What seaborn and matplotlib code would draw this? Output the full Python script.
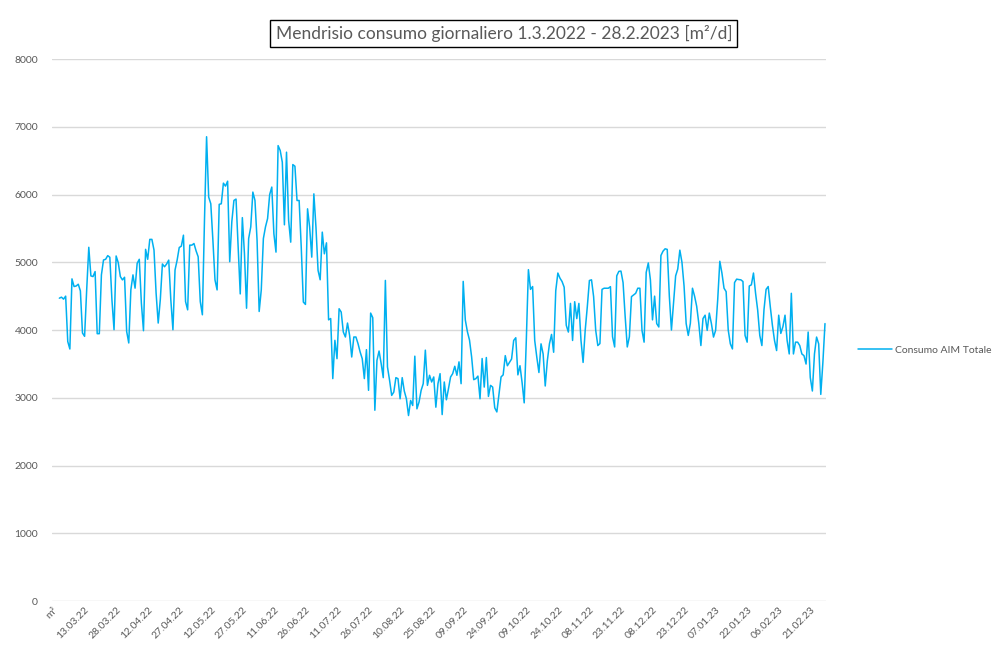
import numpy as np
import pandas as pd
import matplotlib
matplotlib.use("Agg")
import matplotlib.pyplot as plt
import seaborn as sns

# daily consumption [m3/d], one list per month
mar_22 = [4470, 4485, 4456, 4500, 3830, 3720, 4755, 4642, 4650, 4676, 4578, 3956, 3907, 4593, 5221, 4799,
          4789, 4863, 3946, 3946, 4814, 5034, 5044, 5098, 5074, 4446, 4005, 5093, 4995, 4789, 4740]
apr_22 = [4779, 3980, 3809, 4593, 4814, 4618, 4985, 5044, 4397, 3990, 5191, 5044, 5338, 5338, 5181,
          4544, 4103, 4450, 4975, 4934, 4974, 5032, 4445, 4004, 4886, 5032, 5218, 5238, 5400, 4420]
may_22 = [4298, 5253, 5253, 5277, 5169, 5081, 4420, 4225, 5620, 6853, 5962, 5864, 5326, 4739, 4592, 5855,
          5864, 6168, 6124, 6197, 5008, 5600, 5913, 5933, 5228, 4533, 5659, 5130, 4322, 5350, 5522]
jun_22 = [6036, 5913, 5326, 4274, 4592, 5350, 5522, 5645, 6000, 6110, 5420, 5150, 6722, 6650, 6477,
          5553, 6625, 5617, 5297, 6442, 6418, 5912, 5912, 5224, 4413, 4378, 5789, 5518, 5076, 6010]
jul_22 = [5518, 4880, 4742, 5445, 5125, 5287, 4150, 4170, 3283, 3848, 3577, 4314, 4265, 3971, 3897, 4103,
          3921, 3602, 3897, 3897, 3799, 3676, 3577, 3283, 3710, 3110, 4250, 4182, 2816, 3553, 3690]
aug_22 = [3504, 3297, 4732, 3455, 3257, 3035, 3084, 3297, 3282, 2985, 3297, 3099, 2985, 2738, 2960, 2886,
          3614, 2837, 2936, 3109, 3208, 3703, 3183, 3332, 3233, 3307, 2861, 3208, 3356, 2752, 3233]
sep_22 = [2970, 3134, 3307, 3356, 3465, 3332, 3530, 3208, 4718, 4149, 3975, 3851, 3604, 3267, 3282,
          3320, 2985, 3579, 3158, 3594, 3020, 3183, 3158, 2851, 2791, 3050, 3308, 3338, 3622, 3473]
oct_22 = [3522, 3572, 3846, 3886, 3338, 3473, 3224, 2925, 3846, 4891, 4600, 4642, 3846, 3597, 3373, 3796,
          3647, 3174, 3547, 3796, 3935, 3672, 4580, 4841, 4766, 4716, 4632, 4070, 3970, 4393, 3846]
nov_22 = [4418, 4169, 4393, 3846, 3522, 3995, 4343, 4731, 4741, 4493, 3995, 3771, 3800, 4600, 4617,
          4617, 4617, 4640, 3900, 3750, 4800, 4866, 4870, 4700, 4200, 3750, 3900, 4493, 4517, 4542]
dec_22 = [4617, 4617, 3995, 3821, 4850, 4990, 4741, 4150, 4500, 4095, 4045, 5100, 5164, 5199, 5190, 4500,
          4000, 4400, 4800, 4900, 5179, 5000, 4650, 4095, 3920, 4100, 4617, 4500, 4350, 4100, 3771]
jan_23 = [4169, 4219, 3995, 4250, 4095, 3896, 3995, 4450, 5015, 4841, 4617, 4567, 4000, 3796, 3721, 4700,
          4751, 4745, 4741, 4716, 3920, 3821, 4650, 4667, 4841, 4542, 4294, 3920, 3771, 4300, 4600]
feb_23 = [4642, 4343, 4070, 3846, 3697, 4219, 3950, 4050, 4219, 3846, 3647, 4542, 3647, 3821, 3821, 3771,
          3647, 3622, 3498, 3970, 3300, 3100, 3647, 3896, 3796, 3050, 3522, 4095]

series_name = "Consumo AIM Totale"
title = "Mendrisio consumo giornaliero 1.3.2022 - 28.2.2023 [m²/d]"

# category column of the sheet: unit header and two empty days before 1.3.22
days = pd.date_range("2022-02-27", "2023-02-28", freq="D")
categories = ["m³"] + [d.strftime("%d.%m.%y") for d in days]
values = [np.nan] * 3 + mar_22 + apr_22 + may_22 + jun_22 + jul_22 + aug_22 + \
         sep_22 + oct_22 + nov_22 + dec_22 + jan_23 + feb_23

df = pd.DataFrame({"pos": np.arange(len(categories)), "value": values})

sns.set_theme(style="white")
plt.rcParams["font.family"] = ["Lato", "DejaVu Sans"]

fig = plt.figure(figsize=(9.92, 6.53), dpi=100)
ax = fig.add_axes([0.0524, 0.0796, 0.7803, 0.830])

sns.lineplot(data=df, x="pos", y="value", ax=ax, color="#00b0f0", linewidth=1.1,
             label=series_name, errorbar=None)

ax.set_xlim(-0.5, len(categories) - 0.5)
ax.set_ylim(0, 8000)
ax.set_yticks(range(0, 8001, 1000))
ax.grid(axis="y", color="#d9d9d9", linewidth=1)
ax.set_axisbelow(True)
for s in ax.spines.values():
    s.set_visible(False)

ticks = list(range(0, len(categories), 15))
ax.set_xticks(ticks)
ax.set_xticklabels([categories[t] for t in ticks], rotation=45, ha="right",
                   rotation_mode="anchor")
ax.tick_params(axis="both", length=0, labelsize=7.5, labelcolor="#595959")
ax.tick_params(axis="y", pad=10)
ax.tick_params(axis="x", pad=3)
ax.set_xlabel("")
ax.set_ylabel("")

leg = ax.legend(loc="center left", bbox_to_anchor=(0.855, 0.464), bbox_transform=fig.transFigure,
                frameon=False, fontsize=7.5, handlelength=3.3, handletextpad=0.3)
for t in leg.get_texts():
    t.set_color("#595959")

fig.text(0.508, 0.949, title, ha="center", va="center", fontsize=12.5, color="#595959",
         bbox=dict(boxstyle="square,pad=0.3", fc="white", ec="black", lw=1))

fig.savefig("out.png", dpi=100)
